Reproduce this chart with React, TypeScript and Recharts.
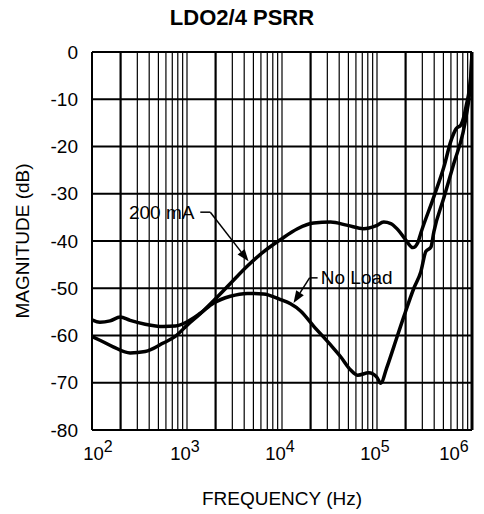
import { LineChart, Line, XAxis, YAxis, ReferenceLine, ReferenceDot } from "recharts";

const FONT = '"Liberation Sans", Arial, Helvetica, sans-serif';

// axis ticks
const DECADES = [100, 1000, 10000, 100000, 1000000];
const MANTISSAS = [2, 3, 4, 5, 6, 7, 8, 9];
const DB_TICKS = [-80, -70, -60, -50, -40, -30, -20, -10, 0];

// 200 mA load
const FREQ_200MA = [
  100, 121, 167, 252, 363, 562, 752, 1006, 1380, 1892, 2861, 4324, 6378, 9643,
  14570, 21500, 32500, 49120, 72470, 97000, 117800, 139700, 165600, 201200,
  238400, 269300, 289500, 397200, 506500, 600300, 677800, 765500, 864600, 976000, 1000000,
];
const DB_200MA = [
  -60.2, -61.0, -62.4, -63.7, -63.4, -61.6, -60.2, -57.8, -55.4, -52.7, -49.0, -45.3, -42.3, -39.7,
  -37.4, -36.2, -36.0, -36.7, -37.4, -36.8, -36.0, -36.3, -37.6, -39.8,
  -41.4, -40.3, -38.3, -30.6, -24.3, -18.8, -16.3, -15.4, -11.6, -4.5, 0,
];

// no load
const FREQ_NO_LOAD = [
  100, 121, 155, 198, 252, 363, 562, 752, 1006, 1380, 1892, 2861, 4324, 6378, 9643,
  12290, 15680, 21500, 32500, 41440, 52840, 62640, 81840, 99400, 109500, 126800,
  150200, 191600, 244300, 289500, 326900, 369300, 397200, 506500, 645700, 803500, 864600, 976000, 1000000,
];
const DB_NO_LOAD = [
  -56.7, -57.2, -56.9, -56.1, -56.8, -57.6, -58.1, -58.0, -57.1, -55.3, -53.2, -51.7, -51.1, -51.2, -52.4,
  -53.3, -54.8, -58.0, -62.0, -64.5, -67.3, -68.4, -67.9, -68.8, -70.1, -66.8,
  -62.4, -56.0, -50.0, -46.5, -42.2, -41.3, -38.0, -30.8, -23.5, -17.1, -13.8, -4.9, 0,
];

const toRows = (freq: number[], db: number[]) => freq.map((f, i) => ({ f, db: db[i] }));

function DecadeTick({ x, y, payload }: any) {
  const exp = Math.round(Math.log10(payload.value));
  // first label sits a little right of the axis corner
  const shift = exp === 2 ? 6 : -2;
  return (
    <text x={x + shift} y={y + 28} textAnchor="middle" fontFamily={FONT} fontSize={18.5} fill="#000">
      10
      <tspan dy={-8} fontSize={16}>
        {exp}
      </tspan>
    </text>
  );
}

function ArrowLine(props: any) {
  const { x1, y1, x2, y2 } = props;
  const ang = Math.atan2(y2 - y1, x2 - x1);
  const len = 12;
  const half = 4.5;
  const bx = x2 - len * Math.cos(ang);
  const by = y2 - len * Math.sin(ang);
  const px = -Math.sin(ang) * half;
  const py = Math.cos(ang) * half;
  return (
    <g>
      <line x1={x1} y1={y1} x2={bx} y2={by} stroke="#000" strokeWidth={1.5} />
      <polygon points={`${x2},${y2} ${bx + px},${by + py} ${bx - px},${by - py}`} fill="#000" />
    </g>
  );
}

const noteText = (text: string) => (p: any) => (
  <text x={p.cx} y={p.cy} textAnchor="middle" dominantBaseline="central" fontFamily={FONT} fontSize={19} fill="#000">
    {text}
  </text>
);

export default function App() {
  const rows200 = toRows(FREQ_200MA, DB_200MA);
  const rowsNoLoad = toRows(FREQ_NO_LOAD, DB_NO_LOAD);
  const minorFreqs = DECADES.slice(0, 4).flatMap((d) => MANTISSAS.map((m) => ({ f: d * m, m })));

  return (
    <div style={{ position: "absolute", left: 0, top: 0, width: 484, height: 514, background: "#fff" }}>
      <div
        style={{
          position: "absolute",
          left: 0,
          top: 5,
          width: 484,
          textAlign: "center",
          fontFamily: FONT,
          fontWeight: "bold",
          fontSize: 22,
          lineHeight: "26px",
        }}
      >
        LDO2/4 PSRR
      </div>
      <LineChart width={484} height={514} margin={{ top: 52, right: 12, bottom: 0, left: 0 }}>
        <XAxis
          type="number"
          dataKey="f"
          scale="log"
          domain={[100, 1000000]}
          ticks={DECADES}
          allowDataOverflow
          axisLine={false}
          tickLine={false}
          tickSize={0}
          height={84}
          tick={<DecadeTick />}
          label={{
            value: "FREQUENCY (Hz)",
            position: "insideBottom",
            offset: 9,
            style: { fontFamily: FONT, fontSize: 19, fill: "#000" },
          }}
        />
        <YAxis
          type="number"
          domain={[-80, 0]}
          ticks={DB_TICKS}
          axisLine={false}
          tickLine={false}
          tickSize={0}
          tickMargin={14}
          width={92}
          tick={{ fill: "#000", fontSize: 19, fontFamily: FONT }}
          label={{
            value: "MAGNITUDE (dB)",
            angle: -90,
            position: "insideLeft",
            offset: 22,
            style: { textAnchor: "middle", fontFamily: FONT, fontSize: 19, fill: "#000" },
          }}
        />

        {minorFreqs.map(({ f, m }) => (
          <ReferenceLine key={`v-${f}`} x={f} stroke="#000" strokeWidth={m === 2 ? 2.2 : 1.2} />
        ))}
        {[1000, 10000, 100000].map((f) => (
          <ReferenceLine key={`d-${f}`} x={f} stroke="#000" strokeWidth={1.2} />
        ))}
        {DB_TICKS.slice(1, -1).map((v) => (
          <ReferenceLine key={`h-${v}`} y={v} stroke="#000" strokeWidth={2} />
        ))}
        <ReferenceLine x={100} stroke="#000" strokeWidth={2} />
        <ReferenceLine x={1000000} stroke="#000" strokeWidth={3} />
        <ReferenceLine y={0} stroke="#000" strokeWidth={2} />
        <ReferenceLine y={-80} stroke="#000" strokeWidth={2} />

        <Line data={rows200} dataKey="db" type="monotone" stroke="#000" strokeWidth={3.5} dot={false} isAnimationActive={false} />
        <Line data={rowsNoLoad} dataKey="db" type="monotone" stroke="#000" strokeWidth={3.5} dot={false} isAnimationActive={false} />

        <ReferenceLine segment={[{ x: 1380, y: -33.9 }, { x: 1760, y: -33.9 }]} stroke="#000" strokeWidth={1.5} />
        <ReferenceLine segment={[{ x: 1760, y: -33.9 }, { x: 4440, y: -44.3 }]} shape={ArrowLine} />
        <ReferenceDot x={541} y={-33.9} r={0} shape={noteText("200 mA")} />

        <ReferenceLine segment={[{ x: 23700, y: -47.8 }, { x: 19510, y: -47.8 }]} stroke="#000" strokeWidth={1.5} />
        <ReferenceLine segment={[{ x: 19510, y: -47.8 }, { x: 13220, y: -53.1 }]} shape={ArrowLine} />
        <ReferenceDot x={61100} y={-47.8} r={0} shape={noteText("No Load")} />
      </LineChart>
    </div>
  );
}
